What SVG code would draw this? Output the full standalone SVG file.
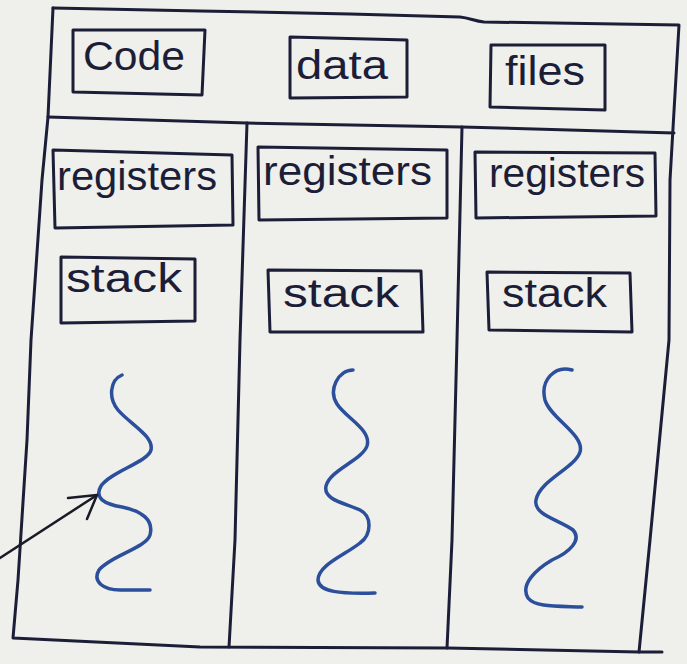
<svg xmlns="http://www.w3.org/2000/svg" width="687" height="664" viewBox="0 0 687 664">
<style>
.frame{fill:none;stroke:#1c1e38;stroke-width:3;stroke-linejoin:round;stroke-linecap:round}
.box{fill:none;stroke:#1c1e38;stroke-width:3;stroke-linejoin:round}
.lbl{font-family:"Liberation Sans",Arial,sans-serif;font-size:40px;fill:#1c1e38}
.thread{fill:none;stroke:#2c4f9c;stroke-width:3.5;stroke-linecap:round;stroke-linejoin:round}
.conn{fill:none;stroke:#1a1a28;stroke-width:2.5;stroke-linecap:round;stroke-linejoin:round}
</style>
<rect width="687" height="664" fill="#efefeb"/>
<g id="process">
<path class="frame" d="M53,8 L200,11 L350,14 L460,17 C470,18 474,21 484,22 L679,25 L670,180 L669,340 L650,540 L639,652"/>
<path class="frame" d="M53,8 L48,117 L42,180 L31,340 L27,440 L18,580 L13,638 L200,647 L447,648 L639,652 L662,652"/>
<path class="frame" d="M48,117 L247,123 L462,127 L674,133"/>
<path class="frame" d="M247,123 L240,340 L235,540 L229,647"/>
<path class="frame" d="M462,127 L457,340 L452,540 L447,648"/>
</g>
<g id="code">
<path class="box" d="M73,30 L205,30 L202,95 L73,92 Z"/>
<text class="lbl" x="83" y="70" textLength="102" lengthAdjust="spacingAndGlyphs">Code</text>
</g>
<g id="data">
<path class="box" d="M290,37 L407,40 L407,97 L290,98 Z"/>
<text class="lbl" x="296" y="79" textLength="92" lengthAdjust="spacingAndGlyphs">data</text>
</g>
<g id="files">
<path class="box" d="M491,45 L605,45 L605,110 L490,107 Z"/>
<text class="lbl" x="505" y="85" textLength="80" lengthAdjust="spacingAndGlyphs">files</text>
</g>
<g id="registers1">
<path class="box" d="M53,150 L232,155 L233,225 L55,228 Z"/>
<text class="lbl" x="57" y="190" textLength="160" lengthAdjust="spacingAndGlyphs">registers</text>
</g>
<g id="registers2">
<path class="box" d="M258,147 L447,150 L447,218 L259,220 Z"/>
<text class="lbl" x="263" y="185" textLength="169" lengthAdjust="spacingAndGlyphs">registers</text>
</g>
<g id="registers3">
<path class="box" d="M475,152 L655,153 L656,216 L476,218 Z"/>
<text class="lbl" x="489" y="187" textLength="156" lengthAdjust="spacingAndGlyphs">registers</text>
</g>
<g id="stack1">
<path class="box" d="M61,257 L195,259 L195,321 L61,323 Z"/>
<text class="lbl" x="66" y="292" textLength="116" lengthAdjust="spacingAndGlyphs">stack</text>
</g>
<g id="stack2">
<path class="box" d="M268,270 L421,271 L423,332 L270,332 Z"/>
<text class="lbl" x="283" y="307" textLength="116" lengthAdjust="spacingAndGlyphs">stack</text>
</g>
<g id="stack3">
<path class="box" d="M487,272 L630,273 L632,332 L489,330 Z"/>
<text class="lbl" x="502" y="307" textLength="105" lengthAdjust="spacingAndGlyphs">stack</text>
</g>
<g id="thread1">
<path class="thread" d="M122,375 C110,380 108,398 118,410 C130,424 154,436 151,450 C148,462 110,472 101,486 C94,498 104,504 122,507 C142,511 154,520 150,535 C146,548 110,556 99,570 C92,582 104,590 120,590 L150,590"/>
</g>
<g id="thread2">
<path class="thread" d="M353,370 C338,370 328,390 337,404 C346,418 372,430 367,446 C362,460 330,470 326,486 C323,500 345,503 360,510 C372,516 372,534 360,543 C345,555 318,565 318,580 C319,592 340,594 375,593"/>
</g>
<g id="thread3">
<path class="thread" d="M572,370 C555,365 540,380 545,400 C550,418 585,435 580,452 C575,468 540,480 536,500 C533,515 560,520 573,530 C582,540 570,552 552,560 C535,570 520,585 528,598 C535,607 555,606 582,607"/>
</g>
<g id="connectors">
<path class="conn" d="M0,558 L97,495"/>
<path class="conn" d="M68,498 L97,495 L87,519"/>
</g>
</svg>
